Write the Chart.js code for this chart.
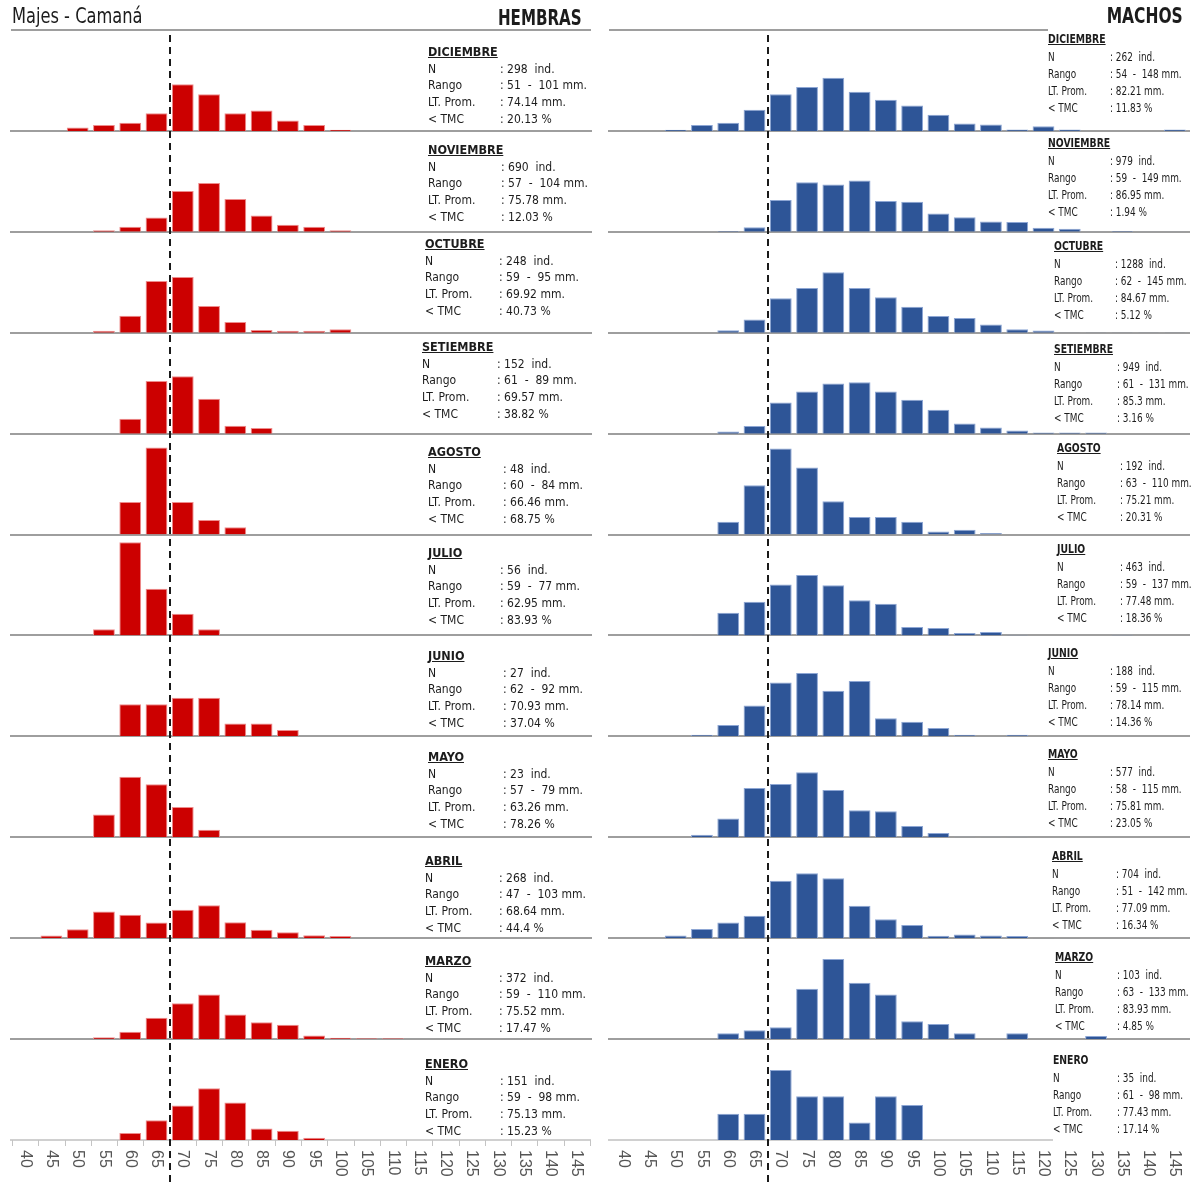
<!DOCTYPE html>
<html>
<head>
<meta charset="utf-8">
<script src="https://cdn.jsdelivr.net/npm/chart.js@4.4.0/dist/chart.umd.min.js"></script>
<style>
  html, body { margin: 0; padding: 0; background: #fff; }
  #page { position: relative; width: 1191px; height: 1186px; overflow: hidden;
          font-family: "Liberation Sans Narrow", "DejaVu Sans Condensed", sans-serif; color: #1c1c1c; }
  canvas { position: absolute; top: 0; }
  .txt { position: absolute; white-space: pre; line-height: 14px; }
  .ttl { font-weight: bold; text-decoration: underline; }
  .hdr { position: absolute; white-space: pre; line-height: 24px; font-size: 21px; }
</style>
</head>
<body>
<div id="page">
  <canvas id="chartH" width="600" height="1186" style="left:0px"></canvas>
  <canvas id="chartM" width="593" height="1186" style="left:598px"></canvas>
  <div class="hdr" style="left:12px; top:4px; transform:scaleX(0.86); transform-origin:left center;">Majes - Camaná</div>
  <div class="hdr" style="right:609px; top:6px; font-weight:bold; transform:scaleX(0.8); transform-origin:right center;">HEMBRAS</div>
  <div class="hdr" style="right:8px; top:4px; font-weight:bold; transform:scaleX(0.82); transform-origin:right center;">MACHOS</div>
</div>
<script>
// Length classes (mm), lower limit of each 5 mm class
const lengthClasses = ['40','45','50','55','60','65','70','75','80','85','90','95',
                       '100','105','110','115','120','125','130','135','140','145'];
// Minimum catch length (mm)
const tmcLength = 70;

const months = ['DICIEMBRE','NOVIEMBRE','OCTUBRE','SETIEMBRE','AGOSTO','JULIO',
                'JUNIO','MAYO','ABRIL','MARZO','ENERO'];

// Females: % frequency per length class
const hDic = [0,0,2.0,3.4,4.7,10.1,26.8,21.1,10.1,11.7,6.0,3.4,0.7,0,0,0,0,0,0,0,0,0];
const hNov = [0,0,0,0.9,2.9,8.3,23.5,28.0,18.8,9.4,4.1,2.9,0.9,0,0,0,0,0,0,0,0,0];
const hOct = [0,0,0,1.2,9.7,29.8,32.1,15.4,6.1,1.5,1.1,1.1,2.0,0,0,0,0,0,0,0,0,0];
const hSet = [0,0,0,0,8.6,30.3,33.0,20.0,4.6,3.3,0,0,0,0,0,0,0,0,0,0,0,0];
const hAgo = [0,0,0,0,18.75,50.0,18.75,8.33,4.17,0,0,0,0,0,0,0,0,0,0,0,0,0];
const hJul = [0,0,0,3.57,53.57,26.79,12.5,3.57,0,0,0,0,0,0,0,0,0,0,0,0,0,0];
const hJun = [0,0,0,0,18.52,18.52,22.22,22.22,7.41,7.41,3.70,0,0,0,0,0,0,0,0,0,0,0];
const hMay = [0,0,0,13.04,34.78,30.43,17.39,4.35,0,0,0,0,0,0,0,0,0,0,0,0,0,0];
const hAbr = [0,1.5,5.2,15.3,13.4,9.0,16.4,18.9,9.1,4.8,3.4,1.7,1.3,0,0,0,0,0,0,0,0,0];
const hMar = [0,0,0,1.1,4.2,12.2,20.6,25.7,14.1,9.7,8.2,2.1,0.8,0.5,0.5,0,0,0,0,0,0,0];
const hEne = [0,0,0,0,4.0,11.3,19.9,29.8,21.5,6.6,5.3,1.3,0,0,0,0,0,0,0,0,0,0];

// Males: % frequency per length class
const mDic = [0,0,0.4,1.9,2.7,6.9,12.0,14.4,17.4,12.8,10.2,8.3,5.3,2.4,2.1,0.5,1.5,0.5,0,0,0,0.5];
const mNov = [0,0,0,0.1,0.3,1.5,10.4,16.2,15.5,16.8,10.1,9.8,6.0,4.8,3.4,3.2,1.3,1.0,0.1,0.3,0.1,0.1];
const mOct = [0,0,0,0,0.8,4.3,11.3,14.6,19.8,14.6,11.6,8.5,5.5,4.8,2.7,1.1,0.7,0.1,0.1,0.1,0.1,0.1];
const mSet = [0,0,0,0,0.7,2.5,10.2,13.8,16.4,16.8,13.8,11.1,7.8,3.3,2.0,1.0,0.4,0.4,0.4,0,0,0];
const mAgo = [0,0,0,0,4.2,16.1,28.1,21.9,10.9,5.7,5.7,4.2,1.0,1.6,0.5,0,0,0,0,0,0,0];
const mJul = [0,0,0,0.1,7.4,11.0,16.7,19.8,16.4,11.5,10.4,2.8,2.4,0.8,1.1,0.2,0,0,0,0.2,0,0];
const mJun = [0,0,0,0.5,3.7,10.1,17.6,20.7,14.9,18.1,5.9,4.8,2.7,0.5,0,0.5,0,0,0,0,0,0];
const mMay = [0,0,0,0.8,6.1,16.1,17.4,21.3,15.5,8.8,8.5,3.7,1.4,0.2,0.2,0.2,0,0,0,0,0,0];
const mAbr = [0,0,0.9,3.0,5.1,7.3,18.8,21.2,19.6,10.6,6.2,4.3,0.8,1.2,0.9,0.7,0.1,0.1,0,0,0.1,0];
const mMar = [0,0,0,0,1.9,2.9,3.9,16.5,26.2,18.4,14.6,5.8,4.9,1.9,0,1.9,0,0,1.0,0,0,0];
const mEne = [0,0,0,0,8.57,8.57,22.86,14.29,14.29,5.71,14.29,11.43,0,0,0,0,0,0,0,0,0,0];

// Monthly summary statistics
const hembrasN     = [298, 690, 248, 152, 48, 56, 27, 23, 268, 372, 151];
const hembrasRango = [[51,101],[57,104],[59,95],[61,89],[60,84],[59,77],[62,92],[57,79],[47,103],[59,110],[59,98]];
const hembrasProm  = ['74.14','75.78','69.92','69.57','66.46','62.95','70.93','63.26','68.64','75.52','75.13'];
const hembrasTMC   = ['20.13','12.03','40.73','38.82','68.75','83.93','37.04','78.26','44.4','17.47','15.23'];

const machosN     = [262, 979, 1288, 949, 192, 463, 188, 577, 704, 103, 35];
const machosRango = [[54,148],[59,149],[62,145],[61,131],[63,110],[59,137],[59,115],[58,115],[51,142],[63,133],[61,98]];
const machosProm  = ['82.21','86.95','84.67','85.3','75.21','77.48','78.14','75.81','77.09','83.93','77.43'];
const machosTMC   = ['11.83','1.94','5.12','3.16','20.31','18.36','14.36','23.05','16.34','4.85','17.14'];

const hembrasSeries = [hDic, hNov, hOct, hSet, hAgo, hJul, hJun, hMay, hAbr, hMar, hEne];
const machosSeries  = [mDic, mNov, mOct, mSet, mAgo, mJul, mJun, mMay, mAbr, mMar, mEne];

// ---- layout of the side notes: [label x, value x, title centre y]
const hembrasNotePos = [[428,500,52],[428,501,150],[425,499,244],[422,497,347],[428,503,452],[428,500,553],
                        [428,503,656],[428,503,757],[425,499,861],[425,499,961],[425,500,1064]];
const machosNotePos  = [[1048,1110,39],[1048,1110,143],[1054,1115,246],[1054,1117,349],[1057,1120,448],[1057,1120,549],
                        [1048,1110,653],[1048,1110,754],[1052,1116,856],[1055,1117,957],[1053,1117,1060]];

const page = document.getElementById('page');
function addText(x, yc, str, cls, style) {
  const d = document.createElement('div');
  d.className = 'txt' + (cls ? ' ' + cls : '');
  d.textContent = str;
  d.style.left = x + 'px';
  d.style.top = (yc - 7) + 'px';
  if (style) Object.assign(d.style, style);
  page.appendChild(d);
}
function buildNotes(pos, N, rango, prom, tmc, opt) {
  months.forEach((m, i) => {
    const [lx, vx, ty] = pos[i];
    const tStyle = Object.assign({ fontSize: opt.titleSize + 'px' }, opt.extra);
    if (opt.plainTitle && opt.plainTitle.includes(i)) tStyle.textDecoration = 'none';
    addText(lx, ty, m, 'ttl', tStyle);
    const rows = [
      ['N', ': ' + N[i] + '  ind.'],
      ['Rango', ': ' + rango[i][0] + '  -  ' + rango[i][1] + ' mm.'],
      ['LT. Prom.', ': ' + prom[i] + ' mm.'],
      ['< TMC', ': ' + tmc[i] + ' %']
    ];
    rows.forEach((r, k) => {
      const y = ty + opt.first + k * opt.step;
      const st = Object.assign({ fontSize: opt.size + 'px' }, opt.extra);
      addText(lx, y, r[0], '', st);
      addText(vx, y, r[1], '', st);
    });
  });
}
buildNotes(hembrasNotePos, hembrasN, hembrasRango, hembrasProm, hembrasTMC,
           { titleSize: 12.5, size: 12, first: 16.5, step: 16.8, extra: {} });
buildNotes(machosNotePos, machosN, machosRango, machosProm, machosTMC,
           { titleSize: 12, size: 11.5, first: 17.5, step: 17.3,
             extra: { transform: 'scaleX(0.86)', transformOrigin: 'left center' }, plainTitle: [10] });

// ---- charts: one column of 11 stacked panels per sex
const tmcIndex = lengthClasses.indexOf(String(tmcLength)) - 0.5;

function columnPlugin(cfg) {
  return {
    id: 'columnDecor',
    beforeDatasetsDraw(chart) {
      const ctx = chart.ctx, a = chart.chartArea;
      ctx.save();
      ctx.strokeStyle = '#9e9e9e';
      ctx.lineWidth = 2;
      ctx.beginPath();
      ctx.moveTo(a.left - 1, a.top);
      ctx.lineTo(cfg.topRuleEnd, a.top);
      ctx.stroke();
      cfg.axisIds.forEach((id, i) => {
        const y = Math.round(chart.scales[id].getPixelForValue(0));
        ctx.beginPath();
        if (i === cfg.axisIds.length - 1) {
          ctx.strokeStyle = '#d0d0d0';
          ctx.lineWidth = 2;
          ctx.moveTo(a.left - 2, y);
          ctx.lineTo(cfg.bottomRuleEnd, y);
        } else {
          ctx.strokeStyle = '#9e9e9e';
          ctx.lineWidth = 2;
          ctx.moveTo(a.left - 2, y);
          ctx.lineTo(a.right + 2, y);
        }
        ctx.stroke();
      });
      ctx.restore();
    },
    afterDatasetsDraw(chart) {
      const ctx = chart.ctx, xs = chart.scales.x;
      const last = chart.scales[cfg.axisIds[cfg.axisIds.length - 1]];
      const yBase = Math.round(last.getPixelForValue(0));
      ctx.save();
      // class boundary ticks
      if (cfg.ticks) {
        ctx.strokeStyle = '#c4c4c4';
        ctx.lineWidth = 1;
        for (let i = 0; i <= lengthClasses.length; i++) {
          const x = Math.round(xs.getPixelForValue(i - 0.5)) + 0.5;
          ctx.beginPath();
          ctx.moveTo(x, yBase);
          ctx.lineTo(x, yBase + 6);
          ctx.stroke();
        }
      }
      // rotated class labels
      ctx.fillStyle = '#555555';
      ctx.font = '16px "Liberation Sans", Arial, sans-serif';
      ctx.textAlign = 'left';
      ctx.textBaseline = 'middle';
      xs.ticks.forEach((t, i) => {
        const x = xs.getPixelForTick(i);
        ctx.save();
        ctx.translate(x, yBase + 10);
        ctx.rotate(Math.PI / 2);
        ctx.fillText(xs.getLabelForValue(t.value), 0, 0);
        ctx.restore();
      });
      // minimum catch length marker
      const xt = Math.round(xs.getPixelForValue(tmcIndex));
      ctx.strokeStyle = '#1a1a1a';
      ctx.lineWidth = 2;
      ctx.setLineDash([7, 5]);
      ctx.beginPath();
      ctx.moveTo(xt, chart.chartArea.top + 5);
      ctx.lineTo(xt, chart.height - 3);
      ctx.stroke();
      ctx.restore();
    }
  };
}

function makeColumn(canvasId, series, color, edge, yMax, pad, cfg) {
  const axisIds = months.map((m, i) => 'y' + i);
  const scales = {
    x: { type: 'category', labels: lengthClasses, display: false, offset: true }
  };
  // bottom panel is declared first: stacked axes are laid out from the last one at the top
  for (let i = months.length - 1; i >= 0; i--) {
    scales[axisIds[i]] = { type: 'linear', display: false, position: 'left',
                           stack: 'panels', stackWeight: 1, min: 0, max: yMax };
  }
  const datasets = series.map((vals, i) => ({
    label: months[i],
    data: vals,
    yAxisID: axisIds[i],
    backgroundColor: color,
    borderColor: edge,
    borderWidth: 1,
    barPercentage: 0.83,
    categoryPercentage: 1,
    grouped: false
  }));
  return new Chart(document.getElementById(canvasId), {
    type: 'bar',
    data: { labels: lengthClasses, datasets },
    options: {
      responsive: false,
      animation: false,
      events: [],
      layout: { padding: pad },
      plugins: { legend: { display: false }, tooltip: { enabled: false } },
      scales
    },
    plugins: [columnPlugin(Object.assign({ axisIds }, cfg))]
  });
}

makeColumn('chartH', hembrasSeries, '#cc0000', '#ee8c8c', 58,
           { left: 12, right: 10, top: 30, bottom: 46 },
           { topRuleEnd: 591, bottomRuleEnd: 591, ticks: true });
makeColumn('chartM', machosSeries, '#2e5597', '#8da6d4', 33,
           { left: 12, right: 3, top: 30, bottom: 46 },
           { topRuleEnd: 450, bottomRuleEnd: 455, ticks: false });
</script>
</body>
</html>
